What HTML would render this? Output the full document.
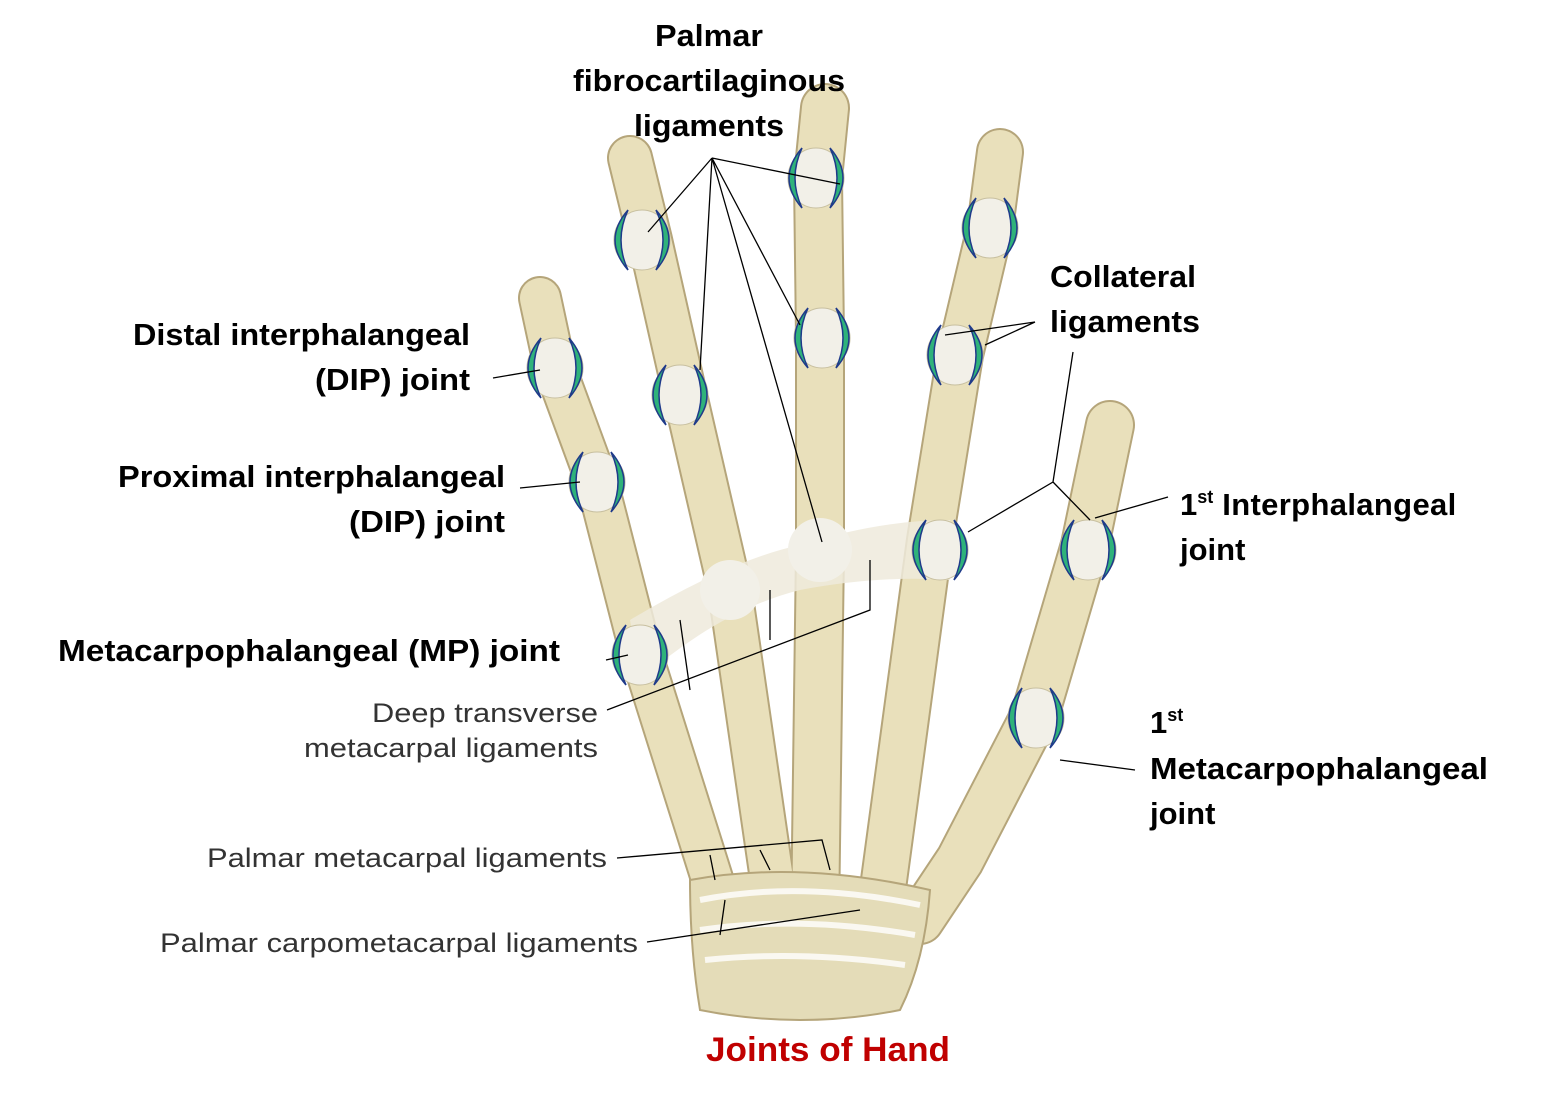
<!DOCTYPE html>
<html><head><meta charset="utf-8"><style>
html,body{margin:0;padding:0;background:#fff}
svg{display:block}
.b{font-family:"Liberation Sans",Arial,sans-serif;font-weight:bold;font-size:31px;fill:#000}
.g{font-family:"Liberation Sans",Arial,sans-serif;font-size:27px;fill:#333}
</style></head><body>
<svg width="1544" height="1097" viewBox="0 0 1544 1097" xmlns="http://www.w3.org/2000/svg">
<defs>
<g id="jt">
<ellipse cx="0" cy="0" rx="28" ry="30" fill="#f2f0e8" stroke="#c8c0a0" stroke-width="1"/>
<path d="M-14,-30 Q-40,0 -14,30 Q-28,0 -14,-30Z" fill="#2fb27a" stroke="#1f3a8a" stroke-width="1.5"/>
<path d="M14,-30 Q40,0 14,30 Q28,0 14,-30Z" fill="#2fb27a" stroke="#1f3a8a" stroke-width="1.5"/>
</g>
</defs>
<g stroke-linecap="round" fill="none">
<g stroke="#b5a57a">
<path d="M540,298 L555,368 L597,482 L640,650 L725,920" stroke-width="44"/>
<path d="M630,158 L650,240 L685,395 L730,590 L775,900" stroke-width="46"/>
<path d="M825,108 L818,178 L820,338 L820,550 L815,920" stroke-width="50"/>
<path d="M1000,152 L990,228 L960,355 L930,540 L880,910" stroke-width="48"/>
<path d="M1110,425 L1085,545 L1035,715 L960,860 L920,920" stroke-width="50"/>
</g>
<g stroke="#e9e0bb">
<path d="M540,298 L555,368 L597,482 L640,650 L725,920" stroke-width="40"/>
<path d="M630,158 L650,240 L685,395 L730,590 L775,900" stroke-width="42"/>
<path d="M825,108 L818,178 L820,338 L820,550 L815,920" stroke-width="46"/>
<path d="M1000,152 L990,228 L960,355 L930,540 L880,910" stroke-width="44"/>
<path d="M1110,425 L1085,545 L1035,715 L960,860 L920,920" stroke-width="46"/>
</g>
</g>
<path d="M690,880 Q800,860 930,890 Q925,960 900,1010 Q800,1030 700,1010 Q690,950 690,880Z" fill="#e4dcb8" stroke="#b5a57a" stroke-width="2"/>
<path d="M700,900 Q800,880 920,905 M700,930 Q800,915 915,935 M705,960 Q800,950 905,965" stroke="#fff" stroke-width="6" fill="none" opacity="0.8"/>
<path d="M630,620 Q730,560 800,545 Q880,520 950,520 L950,580 Q880,575 800,590 Q720,610 640,680Z" fill="#eeeadc" opacity="0.85"/>
<use href="#jt" x="555" y="368"/>
<use href="#jt" x="597" y="482"/>
<use href="#jt" x="640" y="655"/>
<use href="#jt" x="642" y="240"/>
<use href="#jt" x="680" y="395"/>
<use href="#jt" x="816" y="178"/>
<use href="#jt" x="822" y="338"/>
<use href="#jt" x="990" y="228"/>
<use href="#jt" x="955" y="355"/>
<use href="#jt" x="940" y="550"/>
<use href="#jt" x="1088" y="550"/>
<use href="#jt" x="1036" y="718"/>
<ellipse cx="730" cy="590" rx="30" ry="30" fill="#f2f0e8"/>
<ellipse cx="820" cy="550" rx="32" ry="32" fill="#f2f0e8"/>
<g stroke="#000" stroke-width="1.3" fill="none">
<path d="M712,158 L648,232 M712,158 L700,370 M712,158 L822,542 M712,158 L800,325 M712,158 L840,184"/>
<path d="M493,378 L540,370 M520,488 L580,482 M606,660 L628,655"/>
<path d="M1035,322 L985,345 M1035,322 L945,335"/>
<path d="M1073,352 L1053,482 L968,532 M1053,482 L1090,520"/>
<path d="M1168,497 L1095,518 M1135,770 L1060,760"/>
<path d="M607,710 L870,610 L870,560 M690,690 L680,620 M770,640 L770,590"/>
<path d="M617,858 L822,840 L830,870 M710,855 L715,880 M760,850 L770,870"/>
<path d="M647,942 L860,910 M720,935 L725,900"/>
</g>
<text class="b" x="655" y="46" textLength="108" lengthAdjust="spacingAndGlyphs">Palmar</text>
<text class="b" x="573" y="91" textLength="272" lengthAdjust="spacingAndGlyphs">fibrocartilaginous</text>
<text class="b" x="634" y="136" textLength="150" lengthAdjust="spacingAndGlyphs">ligaments</text>
<text class="b" x="1050" y="287" textLength="146" lengthAdjust="spacingAndGlyphs">Collateral</text>
<text class="b" x="1050" y="332" textLength="150" lengthAdjust="spacingAndGlyphs">ligaments</text>
<text class="b" x="133" y="345" textLength="337" lengthAdjust="spacingAndGlyphs">Distal interphalangeal</text>
<text class="b" x="315" y="390" textLength="155" lengthAdjust="spacingAndGlyphs">(DIP) joint</text>
<text class="b" x="118" y="487" textLength="387" lengthAdjust="spacingAndGlyphs">Proximal interphalangeal</text>
<text class="b" x="349" y="532" textLength="156" lengthAdjust="spacingAndGlyphs">(DIP) joint</text>
<text class="b" x="58" y="661" textLength="502" lengthAdjust="spacingAndGlyphs">Metacarpophalangeal (MP) joint</text>
<text class="b" x="1180" y="515">1<tspan font-size="18" dy="-12">st</tspan><tspan dy="12" textLength="243"> Interphalangeal</tspan></text>
<text class="b" x="1180" y="560">joint</text>
<text class="b" x="1150" y="733">1<tspan font-size="18" dy="-12">st</tspan></text>
<text class="b" x="1150" y="779" textLength="338" lengthAdjust="spacingAndGlyphs">Metacarpophalangeal</text>
<text class="b" x="1150" y="824">joint</text>
<text class="g" x="372" y="722" textLength="226" lengthAdjust="spacingAndGlyphs">Deep transverse</text>
<text class="g" x="304" y="757" textLength="294" lengthAdjust="spacingAndGlyphs">metacarpal ligaments</text>
<text class="g" x="207" y="867" textLength="400" lengthAdjust="spacingAndGlyphs">Palmar metacarpal ligaments</text>
<text class="g" x="160" y="952" textLength="478" lengthAdjust="spacingAndGlyphs">Palmar carpometacarpal ligaments</text>
<text x="706" y="1061" textLength="244" lengthAdjust="spacingAndGlyphs" style="font-family:'Liberation Sans',Arial,sans-serif;font-weight:bold;font-size:34px;fill:#c00000">Joints of Hand</text>
</svg>
</body></html>
